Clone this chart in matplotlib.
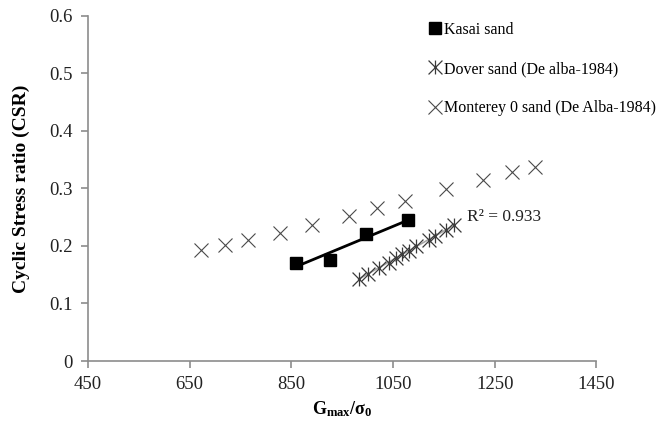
import numpy as np
import matplotlib
matplotlib.use('Agg')
import matplotlib.pyplot as plt
from matplotlib.path import Path
from matplotlib.ticker import FuncFormatter

plt.rcParams['font.family'] = 'Liberation Serif'
plt.rcParams['mathtext.fontset'] = 'custom'
plt.rcParams['mathtext.rm'] = 'Liberation Serif'
plt.rcParams['mathtext.bf'] = 'Liberation Serif:bold'

# Kasai sand (this study)
kasai_g = [860, 926, 996, 1079]
kasai_csr = [0.171, 0.176, 0.220, 0.245]

# Dover sand (De Alba, 1984)
dover_g = [982, 1000, 1022, 1041, 1056, 1068, 1081, 1096, 1120, 1133, 1154, 1170]
dover_csr = [0.142, 0.152, 0.162, 0.171, 0.179, 0.186, 0.192, 0.200, 0.210, 0.217, 0.228, 0.237]

# Monterey 0 sand (De Alba, 1984)
monterey_g = [672, 719, 765, 827, 891, 964, 1019, 1074, 1155, 1226, 1284, 1329]
monterey_csr = [0.193, 0.202, 0.210, 0.223, 0.237, 0.252, 0.266, 0.279, 0.299, 0.315, 0.329, 0.338]

x_ticks = [450, 650, 850, 1050, 1250, 1450]
y_ticks = [0, 0.1, 0.2, 0.3, 0.4, 0.5, 0.6]

# asterisk marker: an X with a vertical bar through it
star = Path([(-1, -1), (1, 1), (-1, 1), (1, -1), (0, -1), (0, 1)],
            [Path.MOVETO, Path.LINETO] * 3)

fig = plt.figure(figsize=(6.62, 4.29), dpi=100)
ax = fig.add_axes([0.133, 0.1585, 0.768, 0.8045])

# linear trendlines
p = np.polyfit(kasai_g, kasai_csr, 1)
xs = np.array([min(kasai_g), max(kasai_g)])
ax.plot(xs, np.polyval(p, xs), color='black', lw=2, zorder=2)

pd_ = np.polyfit(dover_g, dover_csr, 1)
xd = np.array([min(dover_g), max(dover_g)])
ax.plot(xd, np.polyval(pd_, xd), color='#a6a6a6', lw=1.2, zorder=1)

ax.plot(kasai_g, kasai_csr, ls='none', marker='s', ms=8, color='black',
        label='Kasai sand', zorder=3)
ax.plot(dover_g, dover_csr, ls='none', marker=star, ms=10, mew=0.9,
        color='#3a3a3a', label='Dover sand (De alba-1984)', zorder=3)
ax.plot(monterey_g, monterey_csr, ls='none', marker='x', ms=9.5, mew=0.8,
        color='#4a4a4a', label='Monterey 0 sand (De Alba-1984)', zorder=3)

ax.text(1195, 0.25, 'R² = %.3f' % 0.933, fontsize=12.5, va='center',
        ha='left', color='#222222')

ax.set_xlim(450, 1450)
ax.set_ylim(0, 0.6)
ax.set_xticks(x_ticks)
ax.set_yticks(y_ticks)
ax.yaxis.set_major_formatter(FuncFormatter(lambda v, _: '0' if v == 0 else '%.1f' % v))

for s in ['top', 'right']:
    ax.spines[s].set_visible(False)
for s in ['left', 'bottom']:
    ax.spines[s].set_color('#8c8c8c')
    ax.spines[s].set_linewidth(1.2)
ax.tick_params(colors='#8c8c8c', length=5, width=1.2, labelsize=13.5,
               labelcolor='#222222', pad=6)

ax.set_xlabel(r'$\mathbf{G_{max}/\sigma_0}$', fontsize=13, labelpad=4)
ax.set_ylabel('Cyclic Stress ratio (CSR)', fontsize=14, fontweight='bold',
              labelpad=14)

ax.legend(loc='upper left', bbox_to_anchor=(0.648, 0.949),
          bbox_transform=fig.transFigure, frameon=False, fontsize=11.5,
          handlelength=0.8, handletextpad=0.15, labelspacing=1.45,
          borderpad=0, borderaxespad=0)

fig.savefig('out.png', dpi=100)
